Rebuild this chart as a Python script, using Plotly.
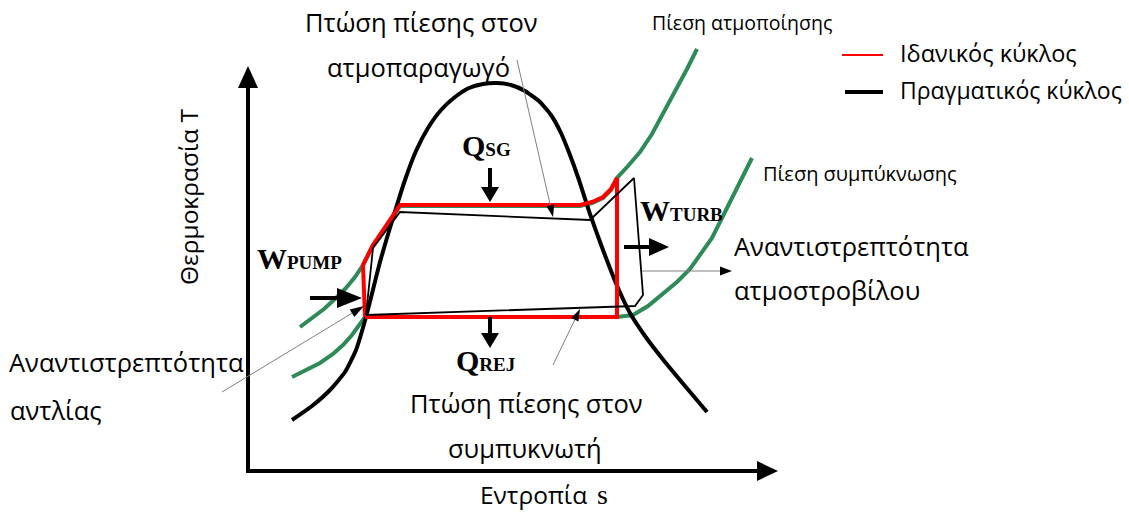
import math
import plotly.graph_objects as go

W, H = 1129, 512

# ---- curve data (s on x, T on y, in drawing units; T grows upward) ----
# saturation dome
dome_s = [292, 312, 330, 345, 356, 366, 380, 393, 405, 416, 428, 441, 455, 469, 483, 497,
          511, 525, 539, 551, 561, 570, 579, 590, 603, 618, 630, 645, 665, 685, 707]
dome_T = [420, 406, 390, 372, 350, 317, 262, 218, 180, 151, 128, 110, 97, 88, 84, 83,
          85, 91, 101, 115, 133, 155, 180, 214, 250, 288, 313, 336, 362, 386, 412]

# evaporation pressure isobar
evap_s = [300, 312, 324, 336, 346, 355, 363, 373, 387, 400, 580, 592, 603, 611, 617,
          628, 640, 652, 664, 676, 687, 697]
evap_T = [327, 318, 309, 298, 288, 277, 265, 245, 226, 206, 206, 203, 198, 190, 178,
          166, 152, 134, 112, 90, 69, 49]

# condensation pressure isobar
cond_s = [292, 305, 320, 333, 343, 352, 360, 365, 617, 633, 648, 663, 677, 690, 702,
          712, 722, 732, 742, 752]
cond_T = [377, 371, 363, 354, 345, 335, 323, 317, 317, 315, 306, 294, 282, 269, 253,
          238, 218, 198, 178, 158]

# ideal Rankine cycle
ideal_s = [365, 363, 373, 400, 580, 592, 603, 611, 617, 617, 365]
ideal_T = [317, 265, 245, 205, 205, 202, 197, 189, 178, 317, 317]

# real cycle
real_s = [366, 373, 400, 590, 634, 643, 635, 366]
real_T = [315, 248, 212, 220, 178, 295, 306, 315]

GREEN = "#2e8b57"
RED = "#ff0000"
GREY = "#808080"
SANS = "Open Sans"
SERIF = "Liberation Serif"

fig = go.Figure()

fig.add_trace(go.Scatter(x=evap_s, y=evap_T, mode="lines",
                         line=dict(color=GREEN, width=4), hoverinfo="skip"))
fig.add_trace(go.Scatter(x=cond_s, y=cond_T, mode="lines",
                         line=dict(color=GREEN, width=4), hoverinfo="skip"))
fig.add_trace(go.Scatter(x=dome_s, y=dome_T, mode="lines",
                         line=dict(color="black", width=4, shape="spline", smoothing=0.5),
                         hoverinfo="skip"))
fig.add_trace(go.Scatter(x=ideal_s, y=ideal_T, mode="lines",
                         line=dict(color=RED, width=4), hoverinfo="skip"))
fig.add_trace(go.Scatter(x=real_s, y=real_T, mode="lines",
                         line=dict(color="black", width=1.8), hoverinfo="skip"))

shapes = []


def arrow(tail, tip, head_len, head_w, width, color="black", head_color="black"):
    x0, y0 = tail
    x1, y1 = tip
    dx, dy = x1 - x0, y1 - y0
    n = math.hypot(dx, dy)
    ux, uy = dx / n, dy / n
    bx, by = x1 - ux * head_len, y1 - uy * head_len
    px, py = -uy, ux
    shapes.append(dict(type="line", xref="x", yref="y", x0=x0, y0=y0, x1=bx, y1=by,
                       line=dict(color=color, width=width)))
    path = (f"M{x1},{y1} L{bx + px * head_w / 2},{by + py * head_w / 2} "
            f"L{bx - px * head_w / 2},{by - py * head_w / 2} Z")
    shapes.append(dict(type="path", xref="x", yref="y", path=path,
                       fillcolor=head_color, line=dict(width=0)))


# axes
arrow((248, 473), (248, 66), 22, 20, 4)
arrow((246, 471), (778, 471), 21, 20, 4)
# heat and work arrows
arrow((490, 168), (490, 202), 15, 18, 4)
arrow((490, 317), (490, 348), 15, 18, 4)
arrow((310, 298), (362, 298), 25, 20, 4)
arrow((624, 247), (669, 247), 20, 18, 4)
# pointer arrows
arrow((517, 60), (553, 217), 12, 8, 1, color=GREY)
arrow((553, 365), (580, 309), 12, 8, 1, color=GREY)
arrow((222, 392), (364, 306), 14, 9, 1, color=GREY)
arrow((642, 271), (732, 271), 12, 9, 1, color=GREY)

# legend samples
shapes.append(dict(type="line", xref="x", yref="y", x0=842, y0=55, x1=883, y1=55,
                   line=dict(color=RED, width=2)))
shapes.append(dict(type="line", xref="x", yref="y", x0=845, y0=92, x1=883, y1=92,
                   line=dict(color="black", width=4)))

ann = []


def text(x, y, s, size=25, anchor="left", family=SANS, color="black", angle=0):
    ann.append(dict(x=x, y=y, xref="x", yref="y", text=s, showarrow=False,
                    xanchor=anchor, yanchor="middle", textangle=angle,
                    font=dict(family=family, size=size, color=color)))


def sym(x, y, big, small, anchor="left"):
    s = (f"<b>{big}</b><b><span style='font-size:19px'>{small}</span></b>")
    text(x, y, s, size=30, anchor=anchor, family=SERIF)


text(421, 22, "Πτώση πίεσης στον", anchor="center", size=25.5)
text(418, 67, "ατμοπαραγωγό", anchor="center", size=25.5)
text(742, 22, "Πίεση ατμοποίησης", size=19.5, anchor="center")
text(860, 173, "Πίεση συμπύκνωσης", size=20, anchor="center")
text(898, 53, "Ιδανικός κύκλος", size=23.5)
text(898, 90, "Πραγματικός κύκλος", size=23)
text(188, 197, "Θερμοκρασία T", anchor="center", angle=-90, size=24.5)
text(589, 494, "Εντροπία", anchor="right", size=24.5)
text(595, 494, "s", anchor="left", size=28, family=SERIF)
text(126, 362, "Αναντιστρεπτότητα", size=25.5, anchor="center")
text(8, 410, "αντλίας", size=25.5)
text(732, 246, "Αναντιστρεπτότητα", size=25.5)
text(732, 290, "ατμοστροβίλου", size=25.5)
text(526, 403, "Πτώση πίεσης στον", anchor="center", size=25.5)
text(525, 448, "συμπυκνωτή", anchor="center", size=25.5)

sym(486, 145, "Q", "SG", anchor="center")
sym(485, 360, "Q", "REJ", anchor="center")
sym(299, 258, "W", "PUMP", anchor="center")
sym(681, 210, "W", "TURB", anchor="center")

fig.update_layout(
    width=W, height=H,
    margin=dict(l=0, r=0, t=0, b=0),
    paper_bgcolor="white", plot_bgcolor="white",
    showlegend=False,
    xaxis=dict(range=[0, W], visible=False, fixedrange=True),
    yaxis=dict(range=[H, 0], visible=False, fixedrange=True),
    shapes=shapes, annotations=ann,
)

fig.write_html("out.html")
